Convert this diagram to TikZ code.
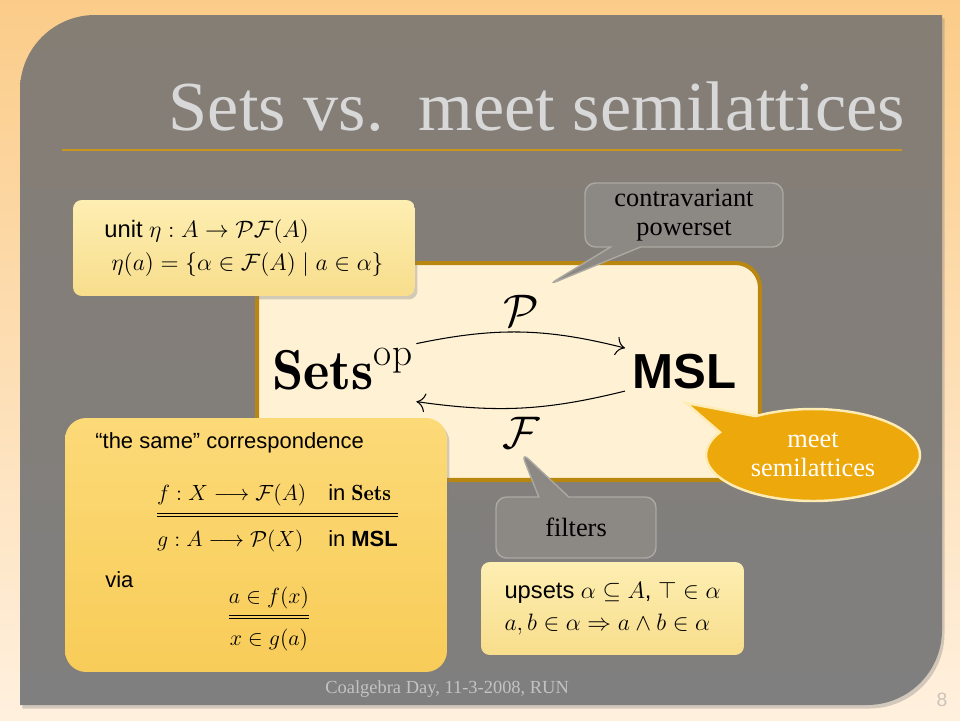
\RequirePackage{fix-cm}
\documentclass[tikz,border=0pt]{standalone}
\usepackage{amsmath,amssymb}
\usepackage{fontspec}
\setsansfont{Liberation Sans}
\newfontfamily\slabfont{Liberation Serif}
\usepackage{xcolor}
\usetikzlibrary{arrows.meta,positioning,shapes.geometric,shapes.callouts,calc,shadows}

\definecolor{bgtop}{RGB}{251,204,137}
\definecolor{bgbot}{RGB}{255,240,222}
\definecolor{paneltop}{RGB}{133,126,117}
\definecolor{panelbot}{RGB}{128,127,127}
\definecolor{titlegray}{RGB}{216,216,216}
\definecolor{rulegold}{RGB}{200,150,30}
\definecolor{cream}{RGB}{255,242,212}
\definecolor{framegold}{RGB}{185,135,15}
\definecolor{notetop}{RGB}{253,238,178}
\definecolor{notebot}{RGB}{248,222,140}
\definecolor{goldtop}{RGB}{252,218,120}
\definecolor{goldbot}{RGB}{248,204,88}
\definecolor{calloutgray}{RGB}{140,137,133}
\definecolor{calloutrim}{RGB}{172,168,162}
\definecolor{meetfill}{RGB}{237,168,12}
\definecolor{meetrim}{RGB}{255,236,180}
\definecolor{footgray}{RGB}{195,195,195}
\definecolor{pagegray}{RGB}{205,195,185}

\begin{document}
\begin{tikzpicture}[
    x=0.02cm, y=-0.02cm,
    shadowed/.style={drop shadow={shadow xshift=0.5mm, shadow yshift=-0.7mm, opacity=0.35}},
    note/.style={rounded corners=5pt, top color=notetop, bottom color=notebot, shadowed,
        align=left, font={\fontsize{13.5}{18.7}\selectfont\sffamily}},
    goldbox/.style={rounded corners=12pt, top color=goldtop, bottom color=goldbot, shadowed},
    bubble/.style={rectangle callout, rounded corners=6pt, fill=calloutgray, draw=calloutrim,
        line width=0.8pt, callout pointer width=0.6cm, align=center,
        font={\fontsize{15}{16.5}\selectfont\slabfont}},
    txt/.style={inner sep=0, font={\fontsize{12.5}{15}\selectfont\sffamily}},
    lbl/.style={inner sep=0, font={\fontsize{26}{28}\selectfont}},
    arr/.style={-{To[length=1.8mm]}, semithick}
]
    \useasboundingbox (0,0) rectangle (960,720);
    \shade[top color=bgtop, bottom color=bgbot] (0,0) rectangle (960,720);

    % Slide panel
    \path[top color=paneltop, bottom color=panelbot, shadowed]
        (20,705) -- (20,90) .. controls (20,48.6) and (53.6,15) .. (95,15)
        -- (942,15) -- (942,630) .. controls (942,671.4) and (908.4,705) .. (867,705) -- cycle;

    % Title
    \node[inner sep=0, anchor=base east, text=titlegray,
        font={\fontsize{40}{44}\selectfont\slabfont}] (title) at (905,130) {Sets vs.\ \ meet semilattices};
    \draw[rulegold, line width=1pt] (62,150) -- (902,150);

    % Adjunction
    \node[draw=framegold, line width=2.3pt, fill=cream, rounded corners=14pt,
        minimum width=10.06cm, minimum height=4.34cm] (catbox) at (508.5,371.5) {};
    \node[inner sep=0, anchor=base west, font={\fontsize{32}{34}\selectfont}] (sets) at (272,389) {$\mathbf{Sets}^{\mathrm{op}}$};
    \node[inner sep=0, anchor=base west, font={\fontsize{28}{30}\selectfont\sffamily\bfseries}] (msl) at (632,388) {MSL};

    \draw[arr] ([xshift=0.06cm, yshift=0.5cm]sets.east) to[bend left=13]
        node[lbl, above=3pt] (plabel) {$\mathcal{P}$} ([xshift=-0.14cm, yshift=0.46cm]msl.west);
    \draw[arr] ([xshift=-0.14cm, yshift=-0.4cm]msl.west) to[bend left=11]
        node[lbl, below=5pt] (flabel) {$\mathcal{F}$} ([xshift=0.06cm, yshift=-0.66cm]sets.east);

    % Unit
    \node[note, minimum width=6.84cm, minimum height=1.92cm] (unitbox) at (244,248)
        {unit $\eta : A \to \mathcal{P}\mathcal{F}(A)$\\
         \hspace*{4pt}$\eta(a) = \{\alpha\in\mathcal{F}(A) \mid a\in\alpha\}$};

    % Correspondence
    \node[goldbox, minimum width=7.64cm, minimum height=5.08cm] (corrbox) at (256,545) {};
    \node[txt, anchor=base west] (same) at (95,448) {“the same” correspondence};
    \node[txt] (corr) at (277.5,515) {\setlength{\arrayrulewidth}{1pt}\setlength{\doublerulesep}{1.8pt}%
        \renewcommand{\arraystretch}{1.55}%
        $\begin{array}{@{}l@{\quad}l@{}}
            f : X \longrightarrow \mathcal{F}(A) & \text{\sffamily in}\ \mathbf{Sets}\\ \hline\hline
            g : A \longrightarrow \mathcal{P}(X) & \text{\sffamily in \bfseries MSL}
        \end{array}$};
    \node[txt, anchor=base west] (via) at (105,587) {via};
    \node[txt] (elem) at (269,617) {\setlength{\arrayrulewidth}{1pt}\setlength{\doublerulesep}{1.8pt}%
        \renewcommand{\arraystretch}{1.4}%
        $\begin{array}{@{}c@{}}
            a \in f(x)\\ \hline\hline
            x \in g(a)
        \end{array}$};

    % Callouts
    \node[bubble, minimum width=3.96cm, minimum height=1.28cm,
        callout absolute pointer={(548,285)}] (contra) at (684,215) {contravariant\\powerset};
    \node[bubble, minimum width=3.2cm, minimum height=1.22cm,
        callout absolute pointer={(521,452)}] (filt) at (576,527.5) {filters};
    \node[note, minimum width=5.26cm, minimum height=1.86cm] (upsets) at (612.5,608.5)
        {upsets $\alpha\subseteq A$, $\top\in\alpha$\\
         $a,b\in\alpha \Rightarrow a\wedge b\in\alpha$};
    \node[ellipse callout, fill=meetfill, draw=meetrim, line width=1.4pt, callout pointer arc=28,
        minimum width=4.28cm, minimum height=1.84cm, align=center, text=white,
        font={\fontsize{15}{16.5}\selectfont\slabfont},
        callout absolute pointer={(686,403)}] (meet) at (813,455) {meet\\semilattices};

    % Footer
    \node[inner sep=0, anchor=base west, text=footgray,
        font={\fontsize{10.5}{12}\selectfont\slabfont}] (footer) at (325,693) {Coalgebra Day, 11-3-2008, RUN};
    \node[inner sep=0, text=pagegray, font={\fontsize{11}{12}\selectfont\sffamily}] (pagenum) at (942,700) {8};
\end{tikzpicture}
\end{document}
